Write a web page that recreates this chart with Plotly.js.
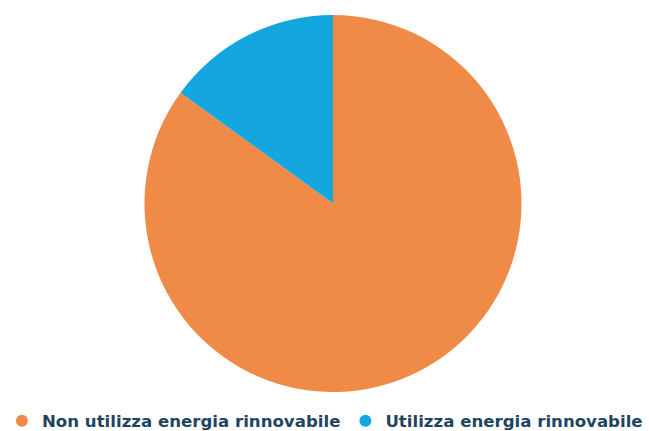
<!DOCTYPE html>
<html>
<head>
<meta charset="utf-8">
<script src="https://cdn.plot.ly/plotly-3.0.1.min.js"></script>
<style>html,body{margin:0;padding:0;background:#fff;}#chart{width:649px;height:431px;}</style>
</head>
<body>
<div id="chart"></div>
<script>
const labels = ["Non utilizza energia rinnovabile", "Utilizza energia rinnovabile"];
const values = [85, 15];
const colors = ["#F08A47", "#13A6DF"];

const pie = {
  type: "pie",
  labels: labels,
  values: values,
  sort: false,
  direction: "clockwise",
  rotation: 0,
  marker: {colors: colors, line: {width: 0}},
  textinfo: "none",
  hoverinfo: "label+percent",
  showlegend: false,
  domain: {x: [144/649, 522/649], y: [(431-392)/431, (431-15)/431]}
};

const legendTraces = labels.map((l, i) => ({
  type: "scatter",
  mode: "markers",
  x: [null], y: [null],
  name: l,
  marker: {color: colors[i], size: 12, symbol: "circle"},
  showlegend: true,
  hoverinfo: "skip"
}));

const layout = {
  width: 649, height: 431,
  margin: {l: 0, r: 0, t: 0, b: 0, autoexpand: false},
  paper_bgcolor: "#fff", plot_bgcolor: "#fff",
  xaxis: {visible: false}, yaxis: {visible: false},
  showlegend: true,
  legend: {
    orientation: "h",
    x: 0.003, xanchor: "left",
    y: 10/431, yanchor: "middle",
    bgcolor: "rgba(0,0,0,0)",
    borderwidth: 0,
    font: {family: "DejaVu Sans", size: 16.6, color: "#1F4561", weight: "bold"},
    itemsizing: "constant",
    tracegroupgap: 0
  }
};

Plotly.newPlot("chart", [pie].concat(legendTraces), layout, {displayModeBar: false, staticPlot: true});
</script>
</body>
</html>
